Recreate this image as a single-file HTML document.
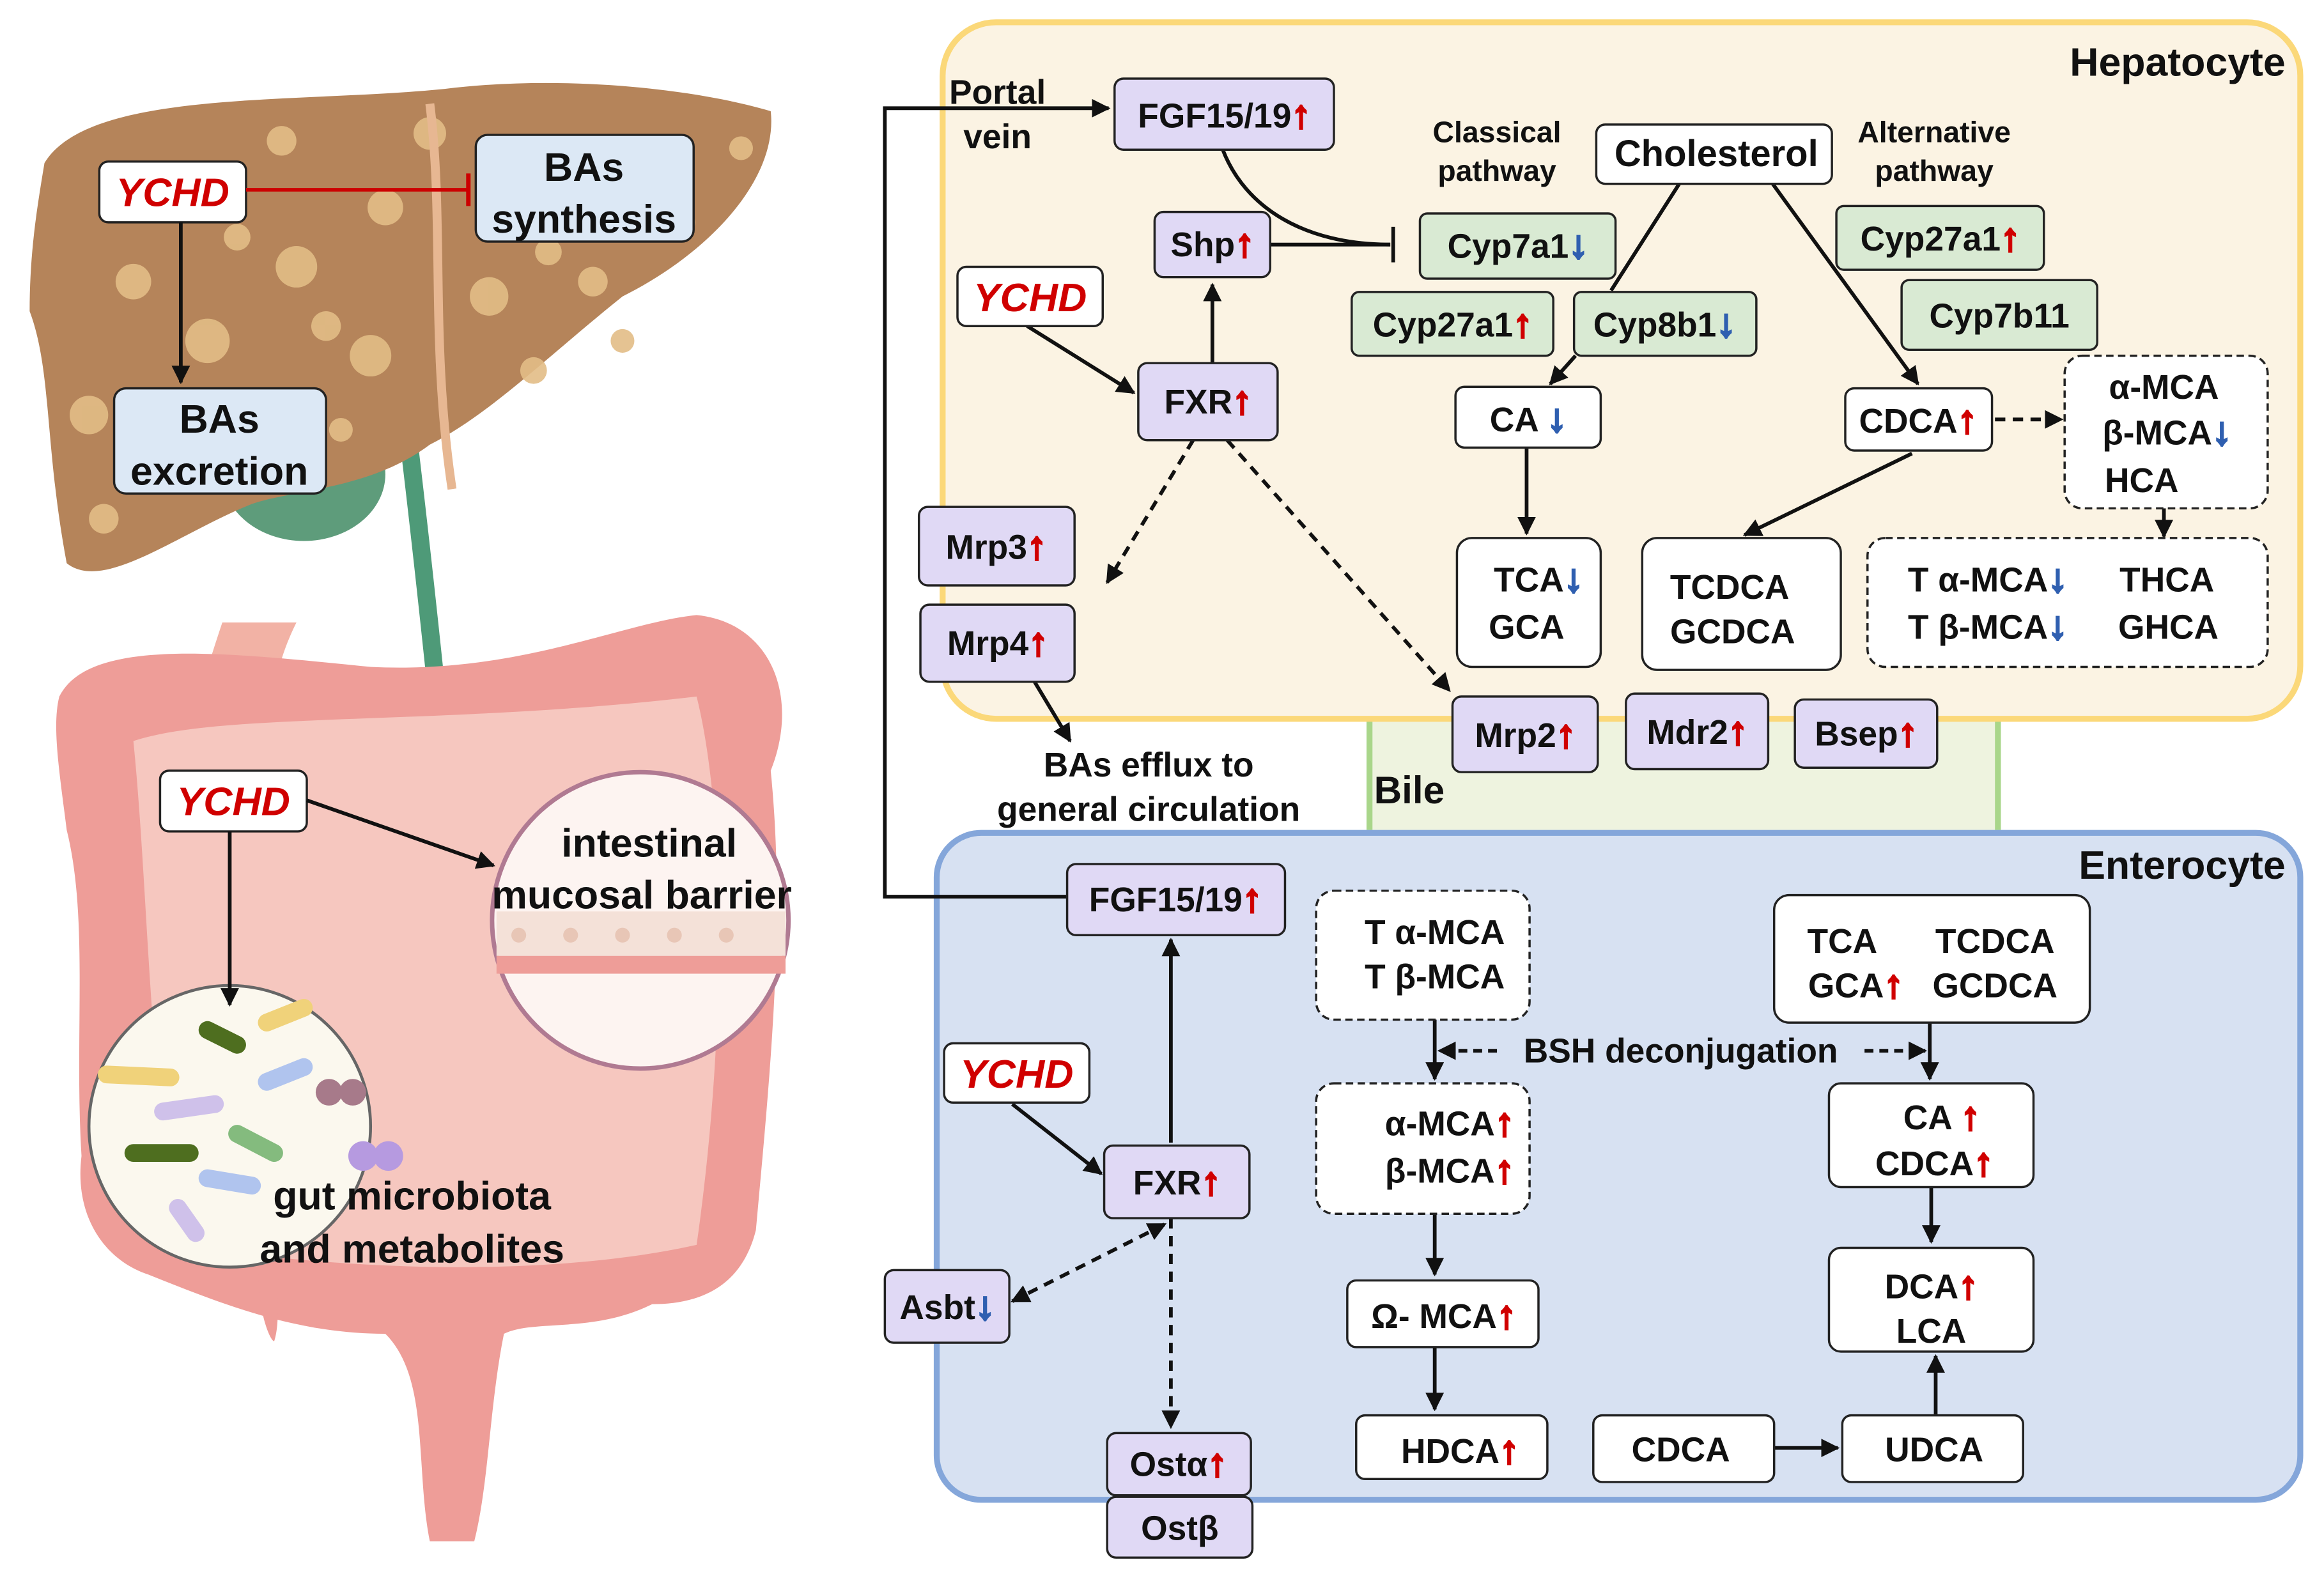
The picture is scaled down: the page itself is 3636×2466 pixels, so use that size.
<!DOCTYPE html>
<html><head><meta charset="utf-8"><style>
html,body{margin:0;padding:0;background:#fff}
svg{display:block}
text{font-family:"Liberation Sans",sans-serif;font-weight:bold;fill:#111}
.n{font-size:23px}
.up{fill:#d00000;stroke:#d00000;stroke-width:1.6;font-size:26px}
.dn{fill:#2f5fb0;stroke:#2f5fb0;stroke-width:1.6;font-size:26px}
.y{fill:#d00000;font-style:italic;font-size:27px}
</style></head><body>
<svg width="3636" height="2466" viewBox="0 0 1568 1063.4" xmlns="http://www.w3.org/2000/svg">
<defs>
<marker id="a" viewBox="0 0 10 10" refX="9" refY="5" markerWidth="5" markerHeight="5" orient="auto-start-reverse"><path d="M0,0L10,5L0,10z" fill="#111"/></marker>
</defs>
<!-- liver illustration -->
<path d="M300,520 C290,420 280,330 270,250" stroke="#4e9a78" stroke-width="12" fill="none"/>
<ellipse cx="205" cy="320" rx="55" ry="45" fill="#5e9c7b"/>
<path d="M30,110 C60,60 200,70 300,60 C380,50 470,60 520,75 C525,120 480,170 420,200 C370,240 330,280 290,300 C250,330 200,330 170,340 C120,360 70,400 45,380 C30,300 35,250 20,210 C20,170 25,140 30,110Z" fill="#b5845a"/>
<g fill="#e2bd86" opacity="0.9">
<circle cx="90" cy="190" r="12"/><circle cx="140" cy="230" r="15"/><circle cx="200" cy="180" r="14"/><circle cx="260" cy="140" r="12"/><circle cx="330" cy="200" r="13"/><circle cx="400" cy="190" r="10"/><circle cx="460" cy="150" r="9"/><circle cx="60" cy="280" r="13"/><circle cx="250" cy="240" r="14"/><circle cx="190" cy="95" r="10"/><circle cx="290" cy="90" r="11"/><circle cx="70" cy="350" r="10"/><circle cx="360" cy="250" r="9"/><circle cx="230" cy="290" r="8"/><circle cx="500" cy="100" r="8"/>
<circle cx="160" cy="160" r="9"/><circle cx="220" cy="220" r="10"/><circle cx="420" cy="230" r="8"/><circle cx="110" cy="300" r="9"/><circle cx="370" cy="170" r="9"/>
</g>
<path d="M290,70 C300,150 290,230 305,330" stroke="#e7b792" stroke-width="6" fill="none"/>
<!-- intestine -->
<path d="M150,420 C140,450 130,480 135,500 L185,500 C180,470 190,440 200,420Z" fill="#f2b2a5"/>
<path d="M40,470 C60,430 150,440 250,450 C350,455 420,420 470,415 C520,420 540,470 520,520 C530,620 520,720 510,830 C500,870 470,880 440,880 C400,900 360,890 340,900 C330,950 330,1000 320,1040 L290,1040 C280,990 290,930 260,900 C200,900 150,880 100,860 C70,850 50,820 55,780 C50,700 60,620 45,560 C40,520 35,490 40,470Z" fill="#ee9d98"/>
<path d="M90,500 C150,480 300,490 470,470 C490,550 490,700 470,840 C380,860 250,860 120,840 C100,720 100,600 90,500Z" fill="#f6c7bf"/>
<path d="M175,850 C172,880 182,905 185,905 C190,890 185,865 190,850Z" fill="#ee9d98"/>
<!-- circles -->
<circle cx="432" cy="621" r="100" fill="#fdf4f1" stroke="#b07a92" stroke-width="3"/>
<rect x="335" y="615" width="195" height="30" fill="#f4e1d8"/>
<rect x="335" y="645" width="195" height="12" fill="#ee9d98"/>
<g fill="#e8c6b6"><circle cx="350" cy="631" r="5"/><circle cx="385" cy="631" r="5"/><circle cx="420" cy="631" r="5"/><circle cx="455" cy="631" r="5"/><circle cx="490" cy="631" r="5"/></g>
<circle cx="155" cy="760" r="95" fill="#fbf8ee" stroke="#666" stroke-width="2"/>
<g stroke-linecap="round" stroke-width="12">
<line x1="140" y1="695" x2="160" y2="705" stroke="#4e6e1f"/><line x1="180" y1="690" x2="205" y2="680" stroke="#f0d27a"/>
<line x1="72" y1="725" x2="115" y2="727" stroke="#f0d27a"/><line x1="180" y1="730" x2="205" y2="720" stroke="#b0c4ee"/>
<line x1="110" y1="750" x2="145" y2="745" stroke="#cfc1ea"/><line x1="160" y1="765" x2="185" y2="778" stroke="#84bb7e"/>
<line x1="90" y1="778" x2="128" y2="778" stroke="#4e6e1f"/><line x1="140" y1="795" x2="170" y2="800" stroke="#b0c4ee"/>
<line x1="120" y1="815" x2="132" y2="832" stroke="#cfc1ea"/>
</g>
<circle cx="222" cy="737" r="9" fill="#a77a8a"/><circle cx="238" cy="737" r="9" fill="#a77a8a"/>
<circle cx="245" cy="780" r="10" fill="#b69ae0"/><circle cx="262" cy="780" r="10" fill="#b69ae0"/>
<!-- left labels -->
<rect x="67" y="109" width="99" height="41" rx="6" fill="#fff" stroke="#222" stroke-width="1.5"/>
<text x="116.5" y="139" class="y" text-anchor="middle">YCHD</text>
<line x1="166" y1="128" x2="316" y2="128" stroke="#c00" stroke-width="2.5"/><line x1="316" y1="117" x2="316" y2="139" stroke="#c00" stroke-width="3"/>
<rect x="321" y="91" width="147" height="72" rx="8" fill="#dce8f5" stroke="#222" stroke-width="1.5"/>
<text x="394" y="122" font-size="27" text-anchor="middle">BAs</text><text x="394" y="157" font-size="27" text-anchor="middle">synthesis</text>
<line x1="122" y1="150" x2="122" y2="258" stroke="#111" stroke-width="2.5" marker-end="url(#a)"/>
<rect x="77" y="262" width="143" height="71" rx="8" fill="#dce8f5" stroke="#222" stroke-width="1.5"/>
<text x="148" y="292" font-size="27" text-anchor="middle">BAs</text><text x="148" y="327" font-size="27" text-anchor="middle">excretion</text>
<rect x="108" y="520" width="99" height="41" rx="6" fill="#fff" stroke="#222" stroke-width="1.5"/>
<text x="157.5" y="550" class="y" text-anchor="middle">YCHD</text>
<line x1="207" y1="540" x2="333" y2="584" stroke="#111" stroke-width="2.5" marker-end="url(#a)"/>
<line x1="155" y1="561" x2="155" y2="678" stroke="#111" stroke-width="2.5" marker-end="url(#a)"/>
<text x="438" y="578" font-size="27" text-anchor="middle">intestinal</text>
<text x="433" y="613" font-size="27" text-anchor="middle">mucosal barrier</text>
<text x="278" y="816" font-size="27" text-anchor="middle">gut microbiota</text>
<text x="278" y="852" font-size="27" text-anchor="middle">and metabolites</text>

<!-- bile -->
<rect x="922" y="480" width="428" height="80" fill="#eef3df"/>
<line x1="924" y1="480" x2="924" y2="560" stroke="#a9d68a" stroke-width="4"/>
<line x1="1348" y1="480" x2="1348" y2="560" stroke="#a9d68a" stroke-width="4"/>
<text x="927" y="542" font-size="26">Bile</text>
<!-- hepatocyte -->
<rect x="636" y="15" width="916" height="470" rx="36" fill="#fbf3e3" stroke="#fbd879" stroke-width="4"/>
<text x="1542" y="51" font-size="27" text-anchor="end">Hepatocyte</text>
<!-- enterocyte -->
<rect x="632" y="562" width="920" height="450" rx="30" fill="#d7e1f2" stroke="#84a6da" stroke-width="4"/>
<text x="1542" y="593" font-size="27" text-anchor="end">Enterocyte</text>

<g stroke="#111" stroke-width="2.5" fill="none">
<polyline points="720,605 597,605 597,73 748,73" marker-end="url(#a)"/>
<path d="M825,101 C840,140 880,165 938,165"/><line x1="857" y1="165" x2="938" y2="165"/><line x1="940" y1="153" x2="940" y2="177"/>
<line x1="818" y1="245" x2="818" y2="192" marker-end="url(#a)"/>
<line x1="693" y1="220" x2="765" y2="265" marker-end="url(#a)"/>
<line x1="805" y1="297" x2="747" y2="393" stroke-dasharray="7,5" marker-end="url(#a)"/>
<line x1="828" y1="297" x2="978" y2="466" stroke-dasharray="7,5" marker-end="url(#a)"/>
<line x1="698" y1="460" x2="722" y2="500" marker-end="url(#a)"/>
<line x1="1133" y1="124" x2="1087" y2="196"/>
<line x1="1063" y1="240" x2="1046" y2="259" marker-end="url(#a)"/>
<line x1="1196" y1="124" x2="1294" y2="259" marker-end="url(#a)"/>
<line x1="1030" y1="302" x2="1030" y2="360" marker-end="url(#a)"/>
<line x1="1290" y1="306" x2="1177" y2="361" marker-end="url(#a)"/>
<line x1="1346" y1="283" x2="1391" y2="283" stroke-dasharray="7,5" marker-end="url(#a)"/>
<line x1="1460" y1="343" x2="1460" y2="362" marker-end="url(#a)"/>
<line x1="790" y1="771" x2="790" y2="634" marker-end="url(#a)"/>
<line x1="683" y1="745" x2="743" y2="792" marker-end="url(#a)"/>
<line x1="683" y1="878" x2="786" y2="826" stroke-dasharray="7,5" marker-end="url(#a)" marker-start="url(#a)"/>
<line x1="790" y1="822" x2="790" y2="963" stroke-dasharray="7,5" marker-end="url(#a)"/>
<line x1="968" y1="688" x2="968" y2="728" marker-end="url(#a)"/>
<line x1="1010" y1="709" x2="971" y2="709" stroke-dasharray="6,4" marker-end="url(#a)"/>
<line x1="1258" y1="709" x2="1299" y2="709" stroke-dasharray="6,4" marker-end="url(#a)"/>
<line x1="1302" y1="690" x2="1302" y2="728" marker-end="url(#a)"/>
<line x1="968" y1="819" x2="968" y2="860" marker-end="url(#a)"/>
<line x1="968" y1="909" x2="968" y2="951" marker-end="url(#a)"/>
<line x1="1303" y1="801" x2="1303" y2="838" marker-end="url(#a)"/>
<line x1="1306" y1="955" x2="1306" y2="915" marker-end="url(#a)"/>
<line x1="1197" y1="977" x2="1240" y2="977" marker-end="url(#a)"/>
</g>
<text x="673" y="70" font-size="23" text-anchor="middle">Portal</text><text x="673" y="100" font-size="23" text-anchor="middle">vein</text>
<text x="1010" y="96" font-size="20" text-anchor="middle">Classical</text><text x="1010" y="122" font-size="20" text-anchor="middle">pathway</text>
<text x="1305" y="96" font-size="20" text-anchor="middle">Alternative</text><text x="1305" y="122" font-size="20" text-anchor="middle">pathway</text>
<text x="775" y="524" font-size="23" text-anchor="middle">BAs efflux to</text><text x="775" y="554" font-size="23" text-anchor="middle">general circulation</text>
<text x="1134" y="717" font-size="23" text-anchor="middle">BSH deconjugation</text>

<!-- purple nodes -->
<g fill="#e0d9f5" stroke="#222" stroke-width="1.5">
<rect x="752" y="53" width="148" height="48" rx="6"/><rect x="779" y="143" width="78" height="44" rx="6"/>
<rect x="768" y="245" width="94" height="52" rx="6"/><rect x="620" y="342" width="105" height="53" rx="6"/>
<rect x="621" y="408" width="104" height="52" rx="6"/><rect x="980" y="470" width="98" height="51" rx="6"/>
<rect x="1097" y="468" width="96" height="51" rx="6"/><rect x="1211" y="472" width="96" height="46" rx="6"/>
<rect x="720" y="583" width="147" height="48" rx="6"/><rect x="745" y="773" width="98" height="49" rx="6"/>
<rect x="597" y="857" width="84" height="49" rx="6"/><rect x="747" y="967" width="97" height="42" rx="6"/>
<rect x="747" y="1010" width="98" height="41" rx="6"/>
</g>
<g fill="#d9ead3" stroke="#222" stroke-width="1.5">
<rect x="958" y="144" width="132" height="44" rx="5"/><rect x="912" y="197" width="136" height="43" rx="5"/>
<rect x="1062" y="197" width="123" height="43" rx="5"/><rect x="1239" y="139" width="140" height="43" rx="5"/>
<rect x="1283" y="189" width="132" height="47" rx="5"/>
</g>
<g fill="#fff" stroke="#222" stroke-width="1.5">
<rect x="1077" y="84" width="159" height="40" rx="6"/><rect x="982" y="261" width="98" height="41" rx="6"/>
<rect x="1245" y="262" width="99" height="42" rx="6"/><rect x="983" y="363" width="97" height="87" rx="10"/>
<rect x="1108" y="363" width="134" height="89" rx="10"/><rect x="646" y="180" width="98" height="40" rx="6"/>
<rect x="1197" y="604" width="213" height="86" rx="10"/><rect x="1234" y="731" width="138" height="70" rx="8"/>
<rect x="909" y="864" width="129" height="45" rx="6"/><rect x="1234" y="842" width="138" height="70" rx="8"/>
<rect x="915" y="955" width="129" height="43" rx="6"/><rect x="1075" y="955" width="122" height="45" rx="6"/>
<rect x="1243" y="955" width="122" height="45" rx="6"/><rect x="637" y="704" width="98" height="40" rx="6"/>
</g>
<g fill="#fff" stroke="#222" stroke-width="1.5" stroke-dasharray="5,3">
<rect x="1393" y="240" width="137" height="103" rx="12"/><rect x="1260" y="363" width="270" height="87" rx="12"/>
<rect x="888" y="601" width="144" height="87" rx="12"/><rect x="888" y="731" width="144" height="88" rx="12"/>
</g>

<g class="n" text-anchor="middle">
<text x="826" y="86">FGF15/19<tspan class="up">↑</tspan></text>
<text x="818" y="173">Shp<tspan class="up">↑</tspan></text>
<text x="815" y="279">FXR<tspan class="up">↑</tspan></text>
<text x="672" y="377">Mrp3<tspan class="up">↑</tspan></text>
<text x="673" y="442">Mrp4<tspan class="up">↑</tspan></text>
<text x="1029" y="504">Mrp2<tspan class="up">↑</tspan></text>
<text x="1145" y="502">Mdr2<tspan class="up">↑</tspan></text>
<text x="1259" y="503">Bsep<tspan class="up">↑</tspan></text>
<text x="793" y="615">FGF15/19<tspan class="up">↑</tspan></text>
<text x="794" y="806">FXR<tspan class="up">↑</tspan></text>
<text x="639" y="890">Asbt<tspan class="dn">↓</tspan></text>
<text x="795" y="996">Ostα<tspan class="up">↑</tspan></text>
<text x="796" y="1039">Ostβ</text>
<text x="1024" y="174">Cyp7a1<tspan class="dn">↓</tspan></text>
<text x="980" y="227">Cyp27a1<tspan class="up">↑</tspan></text>
<text x="1123" y="227">Cyp8b1<tspan class="dn">↓</tspan></text>
<text x="1309" y="169">Cyp27a1<tspan class="up">↑</tspan></text>
<text x="1349" y="221">Cyp7b11</text>
<text x="1158" y="112" font-size="25">Cholesterol</text>
<text x="1031" y="291">CA <tspan class="dn">↓</tspan></text>
<text x="1294" y="292">CDCA<tspan class="up">↑</tspan></text>
<text x="1460" y="269">α-MCA</text><text x="1462" y="300">β-MCA<tspan class="dn">↓</tspan></text><text x="1445" y="332">HCA</text>
<text x="1038" y="399">TCA<tspan class="dn">↓</tspan></text><text x="1030" y="431">GCA</text>
<text x="1167" y="404">TCDCA</text><text x="1169" y="434">GCDCA</text>
<text x="1341" y="399">T α-MCA<tspan class="dn">↓</tspan></text><text x="1341" y="431">T β-MCA<tspan class="dn">↓</tspan></text>
<text x="1462" y="399">THCA</text><text x="1463" y="431">GHCA</text>
<text x="968" y="637">T α-MCA</text><text x="968" y="667">T β-MCA</text>
<text x="1243" y="643">TCA</text><text x="1346" y="643">TCDCA</text>
<text x="1252" y="673">GCA<tspan class="up">↑</tspan></text><text x="1346" y="673">GCDCA</text>
<text x="978" y="766">α-MCA<tspan class="up">↑</tspan></text><text x="978" y="798">β-MCA<tspan class="up">↑</tspan></text>
<text x="1310" y="762">CA <tspan class="up">↑</tspan></text><text x="1305" y="793">CDCA<tspan class="up">↑</tspan></text>
<text x="974" y="896">Ω- MCA<tspan class="up">↑</tspan></text>
<text x="1303" y="876">DCA<tspan class="up">↑</tspan></text><text x="1303" y="906">LCA</text>
<text x="985" y="987">HDCA<tspan class="up">↑</tspan></text>
<text x="1134" y="986">CDCA</text><text x="1305" y="986">UDCA</text>
</g>
<text x="695" y="210" class="y" text-anchor="middle">YCHD</text>
<text x="686" y="734" class="y" text-anchor="middle">YCHD</text>
</svg>
</body></html>
